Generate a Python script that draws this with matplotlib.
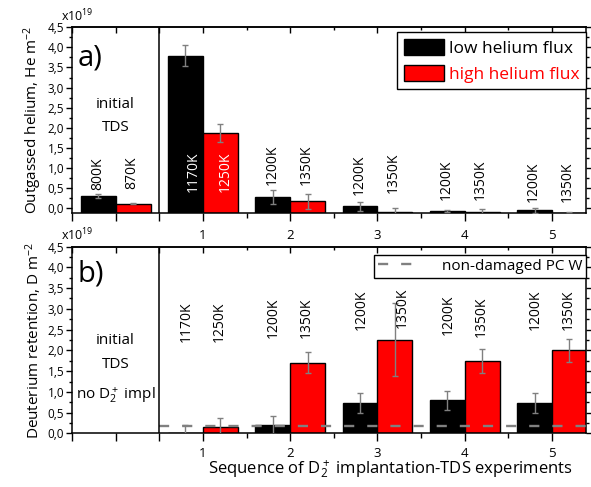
import matplotlib
matplotlib.use("Agg")
import matplotlib.pyplot as plt
from matplotlib.patches import Patch
from matplotlib.lines import Line2D
from matplotlib.ticker import FuncFormatter, FixedLocator

plt.rcParams['font.family'] = ['Open Sans', 'DejaVu Sans']
plt.rcParams['mathtext.fontset'] = 'custom'
plt.rcParams['mathtext.rm'] = 'Open Sans'
plt.rcParams['mathtext.it'] = 'Open Sans:italic'

# ---------------- data ----------------
groups = [0, 1, 2, 3, 4, 5]          # 0 = initial TDS
# panel a: outgassed helium (x1e19 He m^-2)
he_low = [0.30, 3.79, 0.27, 0.04, -0.07, -0.06]
he_low_err = [0.06, 0.26, 0.17, 0.12, 0.03, 0.06]
he_high = [0.11, 1.87, 0.17, -0.10, -0.10, -0.12]
he_high_err = [0.02, 0.22, 0.19, 0.10, 0.07, 0.02]
he_low_lbl = ["800K", "1170K", "1200K", "1200K", "1200K", "1200K"]
he_high_lbl = ["870K", "1250K", "1350K", "1350K", "1350K", "1350K"]
he_low_lbl_y = [0.45, 0.40, 0.57, 0.32, 0.20, 0.15]
he_high_lbl_y = [0.47, 0.40, 0.57, 0.37, 0.20, 0.15]

# panel b: deuterium retention (x1e19 D m^-2)
d_groups = [1, 2, 3, 4, 5]
d_low = [0.0, 0.20, 0.73, 0.80, 0.73]
d_low_err = [0.20, 0.22, 0.24, 0.23, 0.24]
d_high = [0.16, 1.70, 2.26, 1.74, 2.00]
d_high_err = [0.20, 0.25, 0.87, 0.29, 0.27]
d_low_lbl = ["1170K", "1200K", "1200K", "1200K", "1200K"]
d_high_lbl = ["1250K", "1350K", "1350K", "1350K", "1350K"]
d_low_lbl_y = [2.20, 2.30, 2.49, 2.37, 2.49]
d_high_lbl_y = [2.20, 2.30, 2.54, 2.32, 2.49]
non_damaged = 0.185

x_ticklabels = ["1", "2", "3", "4", "5"]

# ---------------- figure ----------------
W, H = 591, 487
fig = plt.figure(figsize=(W / 100, H / 100), dpi=100)
axA = fig.add_axes([72 / W, 1 - 213.3 / H, 514 / W, 186 / H])
axB = fig.add_axes([72 / W, 1 - 433.4 / H, 514 / W, 186.8 / H])

BW = 0.4
GRAY = '#808080'
XLIM = (-0.5, 5.39)


def comma(v, pos):
    return ("%.1f" % v).replace('.', ',')


def style_axes(ax, ymin, ymax, xpad):
    ax.set_xlim(*XLIM)
    ax.set_ylim(ymin, ymax)
    for s in ax.spines.values():
        s.set_linewidth(1.1)
    ax.yaxis.set_major_locator(FixedLocator([i * 0.5 for i in range(10)]))
    ax.yaxis.set_minor_locator(FixedLocator([0.25 + i * 0.5 for i in range(9)]))
    ax.yaxis.set_major_formatter(FuncFormatter(comma))
    ax.tick_params(axis='y', which='both', direction='out', left=True, right=True,
                   labelsize=8.5, width=1, pad=1.5)
    ax.tick_params(axis='y', which='major', length=4)
    ax.tick_params(axis='y', which='minor', length=2.5)
    ax.set_xticks([-0.5, 0, 0.5, 1, 2, 3, 4, 5])
    ax.set_xticklabels(["", "", ""] + x_ticklabels)
    ax.set_xticks([1.5, 2.5, 3.5, 4.5], minor=True)
    ax.tick_params(axis='x', which='both', direction='out', bottom=True, top=False,
                   labelsize=9.5, width=1, pad=xpad)
    ax.tick_params(axis='x', which='major', length=6)
    ax.tick_params(axis='x', which='minor', length=3.5)
    sec = ax.secondary_xaxis('top')
    sec.set_xticks([-0.5, 0, 0.5, 1, 2, 3, 4, 5])
    sec.set_xticks([1.5, 2.5, 3.5, 4.5], minor=True)
    sec.tick_params(axis='x', which='both', direction='in', labeltop=False, width=1)
    sec.tick_params(axis='x', which='major', length=4)
    sec.tick_params(axis='x', which='minor', length=2.5)
    sec.spines['top'].set_linewidth(1.1)
    ax.axvline(0.5, color='black', lw=1.1, zorder=5)
    ax.annotate("x10$^{19}$", xy=(0, 1), xycoords='axes fraction',
                xytext=(-11, 3), textcoords='offset pixels',
                ha='left', va='bottom', fontsize=9)


# ---------------- panel a ----------------
YA = (-0.13, 4.5)
style_axes(axA, *YA, xpad=5)
xl = [g - BW / 2 for g in groups]
xh = [g + BW / 2 for g in groups]
axA.bar(xl, [v - YA[0] for v in he_low], BW, bottom=YA[0], color='black',
        edgecolor='black', lw=1, zorder=2)
axA.bar(xh, [v - YA[0] for v in he_high], BW, bottom=YA[0], color='#ff0000',
        edgecolor='black', lw=1, zorder=2)
axA.errorbar(xl, he_low, yerr=he_low_err, fmt='none', ecolor=GRAY, elinewidth=1,
             capsize=2.5, capthick=1, zorder=3)
axA.errorbar(xh, he_high, yerr=he_high_err, fmt='none', ecolor=GRAY, elinewidth=1,
             capsize=2.5, capthick=1, zorder=3)
for i, g in enumerate(groups):
    if g == 1:
        axA.text(g - 0.11, he_low_lbl_y[i], he_low_lbl[i], rotation=90, ha='center',
                 va='bottom', fontsize=10, color='white', zorder=6)
        axA.text(g + 0.26, he_high_lbl_y[i], he_high_lbl[i], rotation=90, ha='center',
                 va='bottom', fontsize=10, color='white', zorder=6)
    else:
        axA.text(g - 0.21, he_low_lbl_y[i], he_low_lbl[i], rotation=90, ha='center',
                 va='bottom', fontsize=10, zorder=6)
        axA.text(g + 0.18, he_high_lbl_y[i], he_high_lbl[i], rotation=90, ha='center',
                 va='bottom', fontsize=10, zorder=6)
axA.text(0.0, 2.59, "initial", ha='center', va='center', fontsize=11)
axA.text(0.0, 2.01, "TDS", ha='center', va='center', fontsize=11)
axA.text(-0.44, 3.73, "a)", ha='left', va='center', fontsize=21)
axA.set_ylabel("Outgassed helium, He m$^{-2}$", fontsize=11, labelpad=3)
legA = axA.legend(handles=[Patch(facecolor='black', edgecolor='black', lw=1),
                           Patch(facecolor='#ff0000', edgecolor='black', lw=1)],
                  labels=["low helium flux", "high helium flux"],
                  loc='upper right', bbox_to_anchor=(1.0, 1 - 5 / 186),
                  borderaxespad=0, fancybox=False, edgecolor='black', framealpha=1,
                  fontsize=12.5, handlelength=2.3, handleheight=1.05,
                  handletextpad=0.3, labelspacing=0.45, borderpad=0.38)
legA.get_frame().set_linewidth(1)
legA.get_texts()[1].set_color('#ff0000')

# ---------------- panel b ----------------
YB = (0.0, 4.5)
style_axes(axB, *YB, xpad=3.5)
dl = [g - BW / 2 for g in d_groups]
dh = [g + BW / 2 for g in d_groups]
axB.bar(dl, d_low, BW, color='black', edgecolor='black', lw=1, zorder=2)
axB.bar(dh, d_high, BW, color='#ff0000', edgecolor='black', lw=1, zorder=2)
axB.errorbar(dl, d_low, yerr=d_low_err, fmt='none', ecolor=GRAY, elinewidth=1,
             capsize=2.5, capthick=1, zorder=3)
axB.errorbar(dh, d_high, yerr=d_high_err, fmt='none', ecolor=GRAY, elinewidth=1,
             capsize=2.5, capthick=1, zorder=3)
ref = axB.plot([0.5, XLIM[1]], [non_damaged, non_damaged], color=GRAY, lw=1.7,
               zorder=4)[0]
ref.set_dashes((4.3, 5.5))
for i, g in enumerate(d_groups):
    axB.text(g - 0.19, d_low_lbl_y[i], d_low_lbl[i], rotation=90, ha='center',
             va='bottom', fontsize=10, zorder=6)
    axB.text(g + 0.19 + (0.1 if g == 3 else 0), d_high_lbl_y[i], d_high_lbl[i],
             rotation=90, ha='center', va='bottom', fontsize=10, zorder=6)
axB.text(0.0, 2.25, "initial", ha='center', va='center', fontsize=11)
axB.text(0.0, 1.67, "TDS", ha='center', va='center', fontsize=11)
axB.text(0.0, 0.93, "no D$_2^+$ impl", ha='center', va='center', fontsize=11)
axB.text(-0.44, 3.84, "b)", ha='left', va='center', fontsize=21)
axB.set_ylabel("Deuterium retention, D m$^{-2}$", fontsize=11, labelpad=3)
axB.set_xlabel("Sequence of D$_2^+$ implantation-TDS experiments", fontsize=12,
               labelpad=-1, x=0.62)
hB = Line2D([], [], color=GRAY, lw=1.7, dashes=(4.3, 5.5))
legB = axB.legend(handles=[hB], labels=["non-damaged PC W"], loc='upper right',
                  bbox_to_anchor=(1.0, 1 - 8.4 / 186.8), borderaxespad=0,
                  fancybox=False, edgecolor='black', framealpha=1, fontsize=11,
                  handlelength=3.0, handletextpad=1.2, borderpad=0.25)
legB.get_frame().set_linewidth(1)

fig.savefig("out.png", dpi=100)
